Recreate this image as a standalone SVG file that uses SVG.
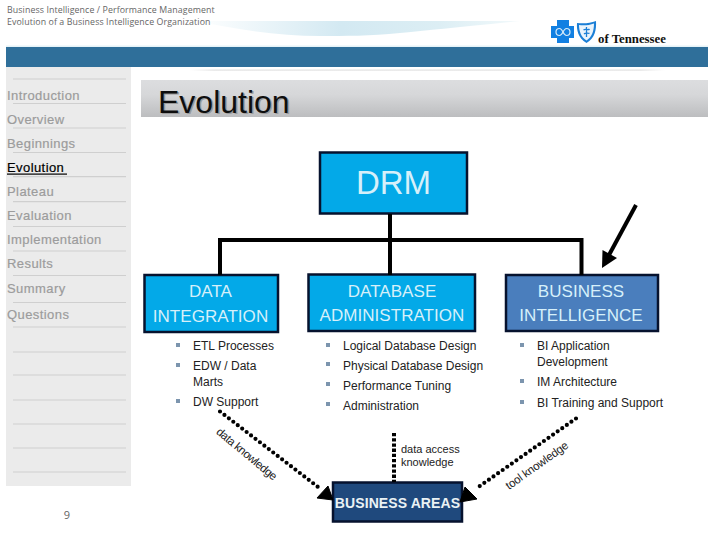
<svg xmlns="http://www.w3.org/2000/svg" width="720" height="540" viewBox="0 0 720 540">
<defs>
<linearGradient id="swoosh" x1="0" y1="0" x2="1" y2="0"><stop offset="0" stop-color="#fff"/><stop offset=".45" stop-color="#D3E9F2"/><stop offset=".75" stop-color="#DCEEF4"/><stop offset="1" stop-color="#F2F9FB"/></linearGradient>
<linearGradient id="title" x1="0" y1="0" x2="0" y2="1"><stop offset="0" stop-color="#DCDDDF"/><stop offset=".4" stop-color="#D6D7D9"/><stop offset="1" stop-color="#BCBDBF"/></linearGradient>
<linearGradient id="rule" x1="0" y1="0" x2="1" y2="0"><stop offset="0" stop-color="#E6E6E6" stop-opacity="0"/><stop offset=".05" stop-color="#E2E2E2"/><stop offset=".95" stop-color="#E2E2E2"/><stop offset="1" stop-color="#E6E6E6" stop-opacity="0"/></linearGradient>
</defs>
<style>
text{font-family:"Liberation Sans",Arial,sans-serif}
.hd{font-family:"Open Sans","Liberation Sans",sans-serif;font-size:8.8px;fill:#666;letter-spacing:.1px}
.nav{font-size:13px;fill:#9C9C9C;letter-spacing:.42px;stroke:#9C9C9C;stroke-width:.2px}
.sep{stroke:#CFCFCF;stroke-width:1.2}
.box{stroke:#06122E;stroke-width:2.5}
.cyan{fill:#03A9E8}
.lbl{font-size:17px;fill:#D6F0FA;text-anchor:middle;letter-spacing:.05px}
.it{font-size:12px;fill:#222}
.bl{fill:#7C95AE}
.wire{fill:none;stroke:#000;stroke-width:4}
.dot{fill:none;stroke:#000;stroke-width:4.2;stroke-linecap:round;stroke-dasharray:0 5.6}
.rot{font-size:11.5px;fill:#222}
</style>
<rect width="720" height="540" fill="#fff"/>
<g id="header">
<path d="M195,21 L520,21 C470,26 430,30 400,33 C370,36 345,36 320,36 C280,36 240,30 195,21 Z" fill="url(#swoosh)"/>
<text class="hd" x="7" y="12.7">Business Intelligence / Performance Management</text>
<text class="hd" x="7" y="24.7">Evolution of a Business Intelligence Organization</text>
<rect x="6" y="45.5" width="702" height="2" fill="#E6F3F8"/>
<rect x="6" y="47" width="702" height="20" fill="#2F6F9A"/>
<rect x="190" y="69.5" width="475" height="1.2" fill="url(#rule)"/>
</g>
<g id="logo">
<path d="M557,20H569V26H574V38H569V43H557V38H551V26H557Z" fill="#1280E2"/>
<path d="M556,32c0-2.500 2-3.500 3.500-3.500s2.500 1.500 3.500 3.500c1-2 2-3.500 3.500-3.500s3.500 1 3.500 3.500s-2 3.500-3.500 3.500s-2.500-1.500-3.500-3.500c-1 2-2 3.500-3.500 3.500s-3.500-1-3.500-3.500Z" fill="none" stroke="#D9ECFA" stroke-width="1.2"/>
<path d="M577,23C583,23.500 590,23.500 596,21C596.500,30 595,38 586.500,43C578,38 576.500,30 577,23Z" fill="#1B7FD6"/>
<path d="M579,25C583,25.500 589,25.500 594,23.500C594,31 592,37 586.500,40.500C581,37 579,31 579,25Z" fill="#EAF4FC"/>
<path d="M586.500,27V37M583.500,30C586,28 588,31 589.500,29M584,34C586,32 588,34 589.500,33" fill="none" stroke="#1B7FD6" stroke-width="1.300"/>
<text x="598" y="43" style="font-family:'Liberation Serif',serif;font-weight:bold;font-size:12.800px;fill:#111">of Tennessee</text>
</g>
<g id="sidebar">
<rect x="6" y="67" width="125" height="419" fill="#EBEBEB"/>
<path class="sep" d="M13,79H126M13,103.500H126M13,128H126M13,152.500H126M13,176.700H126M13,201.700H126M13,226.500H126M13,251H126M13,275.500H126M13,302.500H126M13,327H126M13,352H126M13,375H126M13,400H126M13,424H126M13,448H126M13,472H126"/>
<text class="nav" x="7" y="100">Introduction</text>
<text class="nav" x="7" y="124">Overview</text>
<text class="nav" x="7" y="148">Beginnings</text>
<text class="nav" x="7" y="172" style="fill:#000;stroke:#000">Evolution</text>
<rect x="7" y="173.500" width="60" height="1.200" fill="#000"/>
<text class="nav" x="7" y="196">Plateau</text>
<text class="nav" x="7" y="220">Evaluation</text>
<text class="nav" x="7" y="244">Implementation</text>
<text class="nav" x="7" y="268">Results</text>
<text class="nav" x="7" y="293">Summary</text>
<text class="nav" x="7" y="319">Questions</text>
</g>
<text x="67" y="519" text-anchor="middle" style="font-family:'Open Sans',sans-serif;font-size:11px;fill:#666">9</text>
<g id="title-bar">
<rect x="141" y="80" width="567" height="37" fill="url(#title)"/>
<text x="159.500" y="114" style="font-size:32px;fill:#9A9A9A">Evolution</text>
<text x="158" y="112.700" style="font-size:32px;fill:#0E0E0E">Evolution</text>
</g>
<g id="drm">
<rect class="box cyan" x="320" y="152.500" width="147" height="61"/>
<text x="393.500" y="194" style="font-size:33px;fill:#D6F0FA;text-anchor:middle">DRM</text>
</g>
<g id="data-integration">
<rect class="box cyan" x="144.500" y="275" width="133.500" height="57"/>
<text class="lbl" x="210.500" y="297">DATA</text>
<text class="lbl" x="210.500" y="322">INTEGRATION</text>
</g>
<g id="database-administration">
<rect class="box cyan" x="308.500" y="274.500" width="166.500" height="56.500"/>
<text class="lbl" x="392" y="297">DATABASE</text>
<text class="lbl" x="392" y="321">ADMINISTRATION</text>
</g>
<g id="business-intelligence">
<rect class="box" x="506" y="275" width="152" height="56" fill="#4A7EBD"/>
<text class="lbl" x="581" y="297">BUSINESS</text>
<text class="lbl" x="581" y="321">INTELLIGENCE</text>
</g>
<g id="list-integration">
<rect class="bl" x="176" y="343" width="4" height="4"/><text class="it" x="193" y="350">ETL Processes</text>
<rect class="bl" x="176" y="363" width="4" height="4"/><text class="it" x="193" y="370">EDW / Data</text><text class="it" x="193" y="386">Marts</text>
<rect class="bl" x="176" y="399" width="4" height="4"/><text class="it" x="193" y="406">DW Support</text>
</g>
<g id="list-database">
<rect class="bl" x="326" y="343" width="4" height="4"/><text class="it" x="343" y="350">Logical Database Design</text>
<rect class="bl" x="326" y="362" width="4" height="4"/><text class="it" x="343" y="370">Physical Database Design</text>
<rect class="bl" x="326" y="382" width="4" height="4"/><text class="it" x="343" y="390">Performance Tuning</text>
<rect class="bl" x="326" y="402" width="4" height="4"/><text class="it" x="343" y="410">Administration</text>
</g>
<g id="list-bi">
<rect class="bl" x="520" y="343" width="4" height="4"/><text class="it" x="537" y="350">BI Application</text><text class="it" x="537" y="366">Development</text>
<rect class="bl" x="520" y="379" width="4" height="4"/><text class="it" x="537" y="386">IM Architecture</text>
<rect class="bl" x="520" y="400" width="4" height="4"/><text class="it" x="537" y="407">BI Training and Support</text>
</g>
<g id="business-areas">
<rect class="box" x="333" y="482.500" width="129" height="39" fill="#1F497D"/>
<text x="397.500" y="507.700" style="font-size:14px;font-weight:bold;fill:#EAF2F4;text-anchor:middle;letter-spacing:.1px">BUSINESS AREAS</text>
</g>
<g id="connectors">
<path class="wire" d="M220,275V240H581.500V275M390,214V275"/>
<path d="M636,205L609,255" fill="none" stroke="#000" stroke-width="4"/>
<path d="M602,268L602.500,250L617,258Z" fill="#000"/>
<path class="dot" d="M220,411.500L318,487"/>
<path d="M333,500L317,498L328,486Z" fill="#000" stroke="#000"/>
<path d="M394,433V482" fill="none" stroke="#000" stroke-width="4" stroke-dasharray="3.300 1.900"/>
<path class="dot" d="M576,418.500L477,488"/>
<path d="M460,502L465,487L477,499Z" fill="#000" stroke="#000"/>
</g>
<g id="labels">
<text class="rot" transform="translate(215.500 433) rotate(39.700)" textLength="75">data knowledge</text>
<text class="rot" transform="translate(509 490) rotate(-35.400)" textLength="74">tool knowledge</text>
<text class="rot" style="font-size:11px" x="401" y="453">data access</text>
<text class="rot" style="font-size:11px" x="401" y="466">knowledge</text>
</g>
</svg>
